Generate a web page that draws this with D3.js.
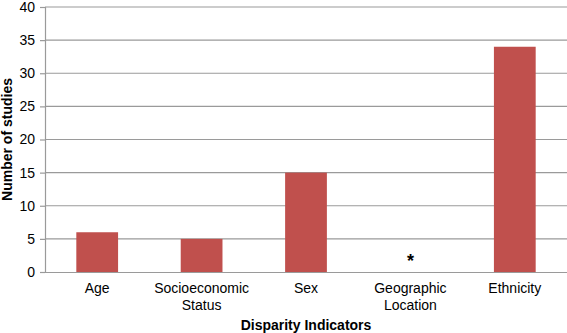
<!DOCTYPE html>
<html><head><meta charset="utf-8">
<script src="https://cdn.jsdelivr.net/npm/d3@7"></script>
<style>body{margin:0;background:#fff}svg{display:block}text{font-family:"Liberation Sans",Arial,sans-serif}</style>
</head><body>
<svg id="c" width="567" height="333"></svg>
<script>
const categories = [["Age"], ["Socioeconomic", "Status"], ["Sex"], ["Geographic", "Location"], ["Ethnicity"]];
const values = [6, 5, 15, null, 34];
const yTicks = [0, 5, 10, 15, 20, 25, 30, 35, 40];
const markerLabel = "*";

const svg = d3.select("#c");
const m = {l: 45, r: 0, t: 7, b: 61};
const W = 567, H = 333;
const x = d3.scaleBand().domain(categories.map((d, i) => i)).range([m.l, W - m.r]).paddingInner(0.6).paddingOuter(0.3);
const y = d3.scaleLinear().domain([0, 40]).range([H - m.b, m.t]);

// grid
svg.append("g").selectAll("line").data(yTicks.filter(d => d > 0)).join("line")
  .attr("x1", m.l).attr("x2", W).attr("y1", d => y(d)).attr("y2", d => y(d))
  .attr("stroke", "#9a9a9a").attr("stroke-width", 1.2);

// bars
svg.append("g").selectAll("rect").data(values.map((v, i) => ({v, i})).filter(d => d.v != null)).join("rect")
  .attr("x", d => x(d.i)).attr("width", x.bandwidth())
  .attr("y", d => y(d.v)).attr("height", d => y(0) - y(d.v))
  .attr("fill", "#c0504d");

// marker
values.forEach((v, i) => {
  if (v == null) svg.append("text").attr("x", x(i) + x.bandwidth() / 2).attr("y", y(0) - 5)
    .attr("text-anchor", "middle").attr("font-size", 18).attr("font-weight", "bold").text(markerLabel);
});

// y axis
const ya = d3.axisLeft(y).tickValues(yTicks).tickSize(5).tickPadding(5);
const gy = svg.append("g").attr("transform", `translate(${m.l},0)`).call(ya);
gy.select(".domain").attr("stroke", "#9a9a9a").attr("stroke-width", 1.2);
gy.selectAll(".tick line").attr("stroke", "#9a9a9a").attr("stroke-width", 1.2);
gy.selectAll("text").attr("font-size", 14).attr("fill", "#000").style("font-family", "Liberation Sans, Arial, sans-serif");

// x axis
const xa = d3.axisBottom(x).tickSize(0).tickFormat(() => "");
const gx = svg.append("g").attr("transform", `translate(0,${y(0)})`).call(xa);
gx.select(".domain").attr("stroke", "#9a9a9a").attr("stroke-width", 1.2);
gx.selectAll(".tick").each(function(d) {
  const t = d3.select(this).append("text").attr("text-anchor", "middle").attr("font-size", 14).attr("fill", "#000");
  categories[d].forEach((line, k) => t.append("tspan").attr("x", 0).attr("y", 21 + k * 17).text(line));
});

// titles
svg.append("text").attr("x", 306).attr("y", 330).attr("text-anchor", "middle")
  .attr("font-size", 14).attr("font-weight", "bold").text("Disparity Indicators");
svg.append("text").attr("transform", `translate(12,${(y(0) + y(40)) / 2}) rotate(-90)`).attr("text-anchor", "middle")
  .attr("font-size", 14).attr("font-weight", "bold").text("Number of studies");
</script>
</body></html>
